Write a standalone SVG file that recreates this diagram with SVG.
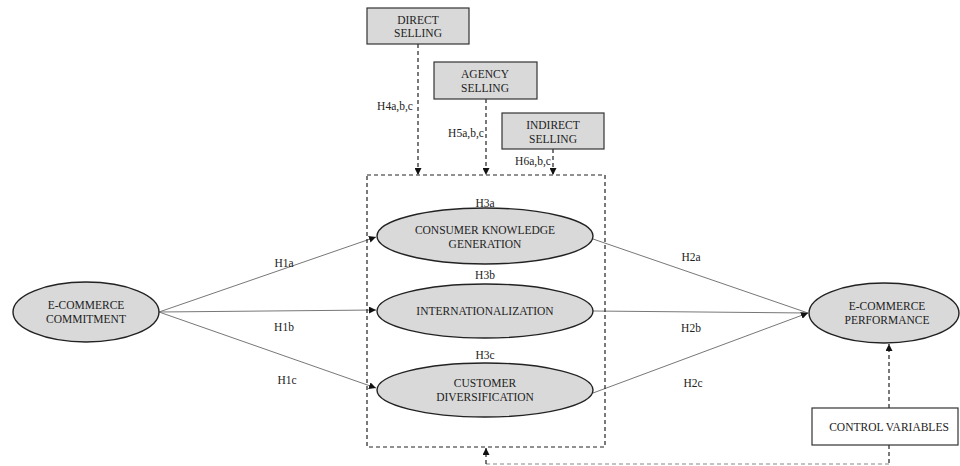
<svg xmlns="http://www.w3.org/2000/svg" width="960" height="466" viewBox="0 0 960 466" font-family="'Liberation Serif', 'DejaVu Serif', serif">
<style>
text{font-family:'Liberation Serif','DejaVu Serif',serif;fill:#222;text-anchor:middle}
.lbl{font-size:11.5px}
.h{font-size:11.5px}
.ell{fill:#d9d9d9;stroke:#222;stroke-width:1.4}
.box{fill:#d9d9d9;stroke:#333;stroke-width:1.2}
.wbox{fill:#fff;stroke:#333;stroke-width:1.2}
.solid{stroke:#777;stroke-width:1;fill:none}
.dash{stroke:#222;stroke-width:1.2;stroke-dasharray:4,3;fill:none}
.gdash{stroke:#888;stroke-width:1.1;stroke-dasharray:4,3;fill:none}
</style>
<defs>
<marker id="ah" viewBox="0 0 10 10" refX="10" refY="5" markerWidth="7" markerHeight="7" markerUnits="userSpaceOnUse" orient="auto">
<path d="M0,0 L10,5 L0,10 z" fill="#111"/>
</marker>
</defs>
<rect width="960" height="466" fill="#fff"/>

<g id="connectors">
<line class="solid" x1="159" y1="312" x2="376" y2="237" marker-end="url(#ah)"/>
<line class="solid" x1="159" y1="312" x2="376" y2="310" marker-end="url(#ah)"/>
<line class="solid" x1="159" y1="312" x2="376" y2="388" marker-end="url(#ah)"/>
<line class="solid" x1="593" y1="239" x2="808" y2="313"/>
<line class="solid" x1="593" y1="311" x2="808" y2="313"/>
<line class="solid" x1="593" y1="393" x2="808" y2="313" marker-end="url(#ah)"/>
<line class="dash" x1="418" y1="44" x2="418" y2="175" marker-end="url(#ah)"/>
<line class="dash" x1="486" y1="99" x2="486" y2="175" marker-end="url(#ah)"/>
<line class="dash" x1="553" y1="149" x2="553" y2="175" marker-end="url(#ah)"/>
<line class="dash" x1="889" y1="408" x2="889" y2="344" marker-end="url(#ah)"/>
<line class="dash" x1="889" y1="445" x2="889" y2="464"/>
<line class="gdash" x1="889" y1="464" x2="486" y2="464"/>
<line class="dash" x1="486" y1="464" x2="486" y2="448" marker-end="url(#ah)"/>
<text class="h" x="395" y="110">H4a,b,c</text>
<text class="h" x="466" y="137">H5a,b,c</text>
<text class="h" x="533" y="165">H6a,b,c</text>
<text class="h" x="284" y="267">H1a</text>
<text class="h" x="284" y="331">H1b</text>
<text class="h" x="287" y="384">H1c</text>
<text class="h" x="691" y="261">H2a</text>
<text class="h" x="691" y="332">H2b</text>
<text class="h" x="693" y="387">H2c</text>
<text class="h" x="485" y="207">H3a</text>
<text class="h" x="485" y="279">H3b</text>
<text class="h" x="485" y="359">H3c</text>
</g>

<g id="moderator-box"><rect x="367" y="175" width="238" height="272" class="dash"/></g>

<g id="direct-selling">
<rect class="box" x="367" y="8" width="102" height="36"/>
<text class="lbl" x="418" y="24">DIRECT</text>
<text class="lbl" x="418" y="37">SELLING</text>
</g>
<g id="agency-selling">
<rect class="box" x="434" y="62" width="103" height="37"/>
<text class="lbl" x="485" y="78">AGENCY</text>
<text class="lbl" x="485" y="92">SELLING</text>
</g>
<g id="indirect-selling">
<rect class="box" x="502" y="113" width="102" height="36"/>
<text class="lbl" x="553" y="129">INDIRECT</text>
<text class="lbl" x="553" y="143">SELLING</text>
</g>

<g id="ecommerce-commitment">
<ellipse class="ell" cx="86" cy="312" rx="73" ry="30"/>
<text class="lbl" x="86" y="309">E-COMMERCE</text>
<text class="lbl" x="86" y="323">COMMITMENT</text>
</g>
<g id="consumer-knowledge">
<ellipse class="ell" cx="485" cy="236" rx="108" ry="28"/>
<text class="lbl" x="485" y="234">CONSUMER KNOWLEDGE</text>
<text class="lbl" x="485" y="248">GENERATION</text>
</g>
<g id="internationalization">
<ellipse class="ell" cx="485" cy="311" rx="108" ry="27"/>
<text class="lbl" x="485" y="315">INTERNATIONALIZATION</text>
</g>
<g id="customer-diversification">
<ellipse class="ell" cx="485" cy="390" rx="108" ry="27"/>
<text class="lbl" x="485" y="387">CUSTOMER</text>
<text class="lbl" x="485" y="401">DIVERSIFICATION</text>
</g>
<g id="ecommerce-performance">
<ellipse class="ell" cx="884" cy="313" rx="75" ry="30"/>
<text class="lbl" x="887" y="310">E-COMMERCE</text>
<text class="lbl" x="887" y="324">PERFORMANCE</text>
</g>
<g id="control-variables">
<rect class="wbox" x="812" y="408" width="146" height="37"/>
<text class="lbl" x="889" y="431">CONTROL VARIABLES</text>
</g>
</svg>
